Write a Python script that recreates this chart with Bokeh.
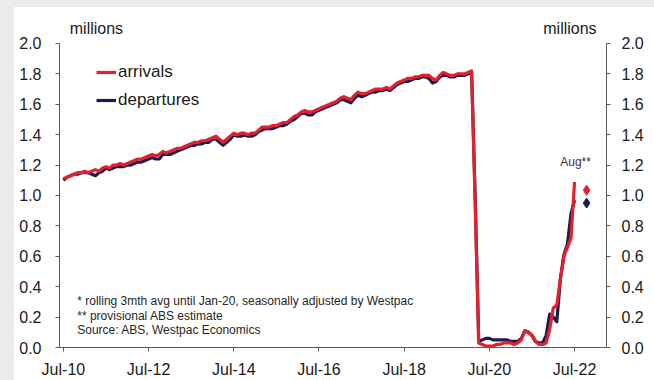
from bokeh.plotting import figure
from bokeh.models import (LinearAxis, FixedTicker, NumeralTickFormatter, Label,
                          Legend, LegendItem, ColumnDataSource, Range1d, Spacer)
from bokeh.layouts import column, row
from bokeh.embed import file_html
from bokeh.resources import INLINE

# ---------------- data (monthly, index 0 = Jul-10) ----------------
arrivals = [
    1.11, 1.12, 1.13, 1.14, 1.15, 1.15, 1.16, 1.15, 1.16, 1.17, 1.16, 1.18,
    1.19, 1.18, 1.20, 1.20, 1.21, 1.20, 1.21, 1.22, 1.23, 1.24, 1.24, 1.25,
    1.26, 1.27, 1.26, 1.27, 1.29, 1.28, 1.29, 1.30, 1.31, 1.31, 1.32, 1.33,
    1.34, 1.35, 1.35, 1.36, 1.36, 1.37, 1.38, 1.39, 1.37, 1.35, 1.37, 1.39,
    1.41, 1.40, 1.41, 1.41, 1.40, 1.41, 1.41, 1.43, 1.45, 1.45, 1.45, 1.46,
    1.46, 1.47, 1.48, 1.48, 1.50, 1.52, 1.53, 1.55, 1.56, 1.55, 1.55, 1.56,
    1.57, 1.58, 1.59, 1.60, 1.61, 1.62, 1.64, 1.65, 1.64, 1.63, 1.66, 1.68,
    1.67, 1.67, 1.68, 1.69, 1.70, 1.70, 1.70, 1.71, 1.70, 1.72, 1.74, 1.75,
    1.76, 1.77, 1.77, 1.78, 1.78, 1.79, 1.79, 1.79, 1.77, 1.76, 1.79, 1.81,
    1.80, 1.79, 1.79, 1.80, 1.80, 1.80, 1.81, 1.82, 0.95, 0.03, 0.02, 0.01,
    0.01, 0.01, 0.02, 0.02, 0.03, 0.03, 0.03, 0.02, 0.03, 0.05, 0.11, 0.10,
    0.08, 0.04, 0.02, 0.02, 0.03, 0.12, 0.26, 0.28, 0.45, 0.60, 0.66, 0.72,
    1.09,
]
departures = [
    1.10, 1.12, 1.13, 1.14, 1.14, 1.15, 1.15, 1.15, 1.14, 1.13, 1.15, 1.16,
    1.18, 1.17, 1.18, 1.19, 1.19, 1.19, 1.20, 1.20, 1.21, 1.22, 1.22, 1.23,
    1.24, 1.25, 1.24, 1.24, 1.27, 1.27, 1.27, 1.28, 1.29, 1.30, 1.31, 1.32,
    1.33, 1.33, 1.34, 1.34, 1.35, 1.35, 1.37, 1.37, 1.35, 1.33, 1.35, 1.37,
    1.40, 1.39, 1.39, 1.40, 1.39, 1.39, 1.40, 1.42, 1.43, 1.44, 1.44, 1.44,
    1.45, 1.46, 1.46, 1.47, 1.49, 1.50, 1.52, 1.54, 1.54, 1.53, 1.53, 1.55,
    1.56, 1.57, 1.58, 1.59, 1.60, 1.61, 1.63, 1.63, 1.62, 1.61, 1.64, 1.66,
    1.65, 1.66, 1.67, 1.68, 1.68, 1.69, 1.69, 1.70, 1.69, 1.71, 1.73, 1.74,
    1.75, 1.75, 1.76, 1.77, 1.77, 1.78, 1.78, 1.77, 1.74, 1.75, 1.78, 1.79,
    1.79, 1.78, 1.78, 1.79, 1.79, 1.79, 1.80, 1.81, 1.00, 0.04, 0.05, 0.06,
    0.06, 0.05, 0.05, 0.05, 0.05, 0.05, 0.04, 0.04, 0.04, 0.06, 0.11, 0.10,
    0.08, 0.04, 0.03, 0.03, 0.08, 0.22, 0.20, 0.17, 0.45, 0.61, 0.68, 0.88,
    0.97,
]
month_index = list(range(len(arrivals)))

tick_positions = [0, 24, 48, 72, 96, 120, 144]
tick_labels = ["Jul-10", "Jul-12", "Jul-14", "Jul-16", "Jul-18", "Jul-20", "Jul-22"]
y_ticks = [0.0, 0.2, 0.4, 0.6, 0.8, 1.0, 1.2, 1.4, 1.6, 1.8, 2.0]

aug_label = "Aug**"
aug_position = 147.4
aug_arrivals = 1.035
aug_departures = 0.95

unit_label = "millions"
footnotes = [
    "* rolling 3mth avg until Jan-20, seasonally adjusted by Westpac",
    "** provisional ABS estimate",
    "Source: ABS, Westpac Economics",
]

# ---------------- styling ----------------
RED = "#e3202c"
NAVY = "#1c1b4f"
FONT = "Liberation Sans"
TXT = "#1a1a1a"
AXC = "#595959"
BG = "#ebebeb"

# frame extends a little above 2.0 so the unit labels sit inside it;
# axis lines are bounded to 0..2
p = figure(width=640, height=373, x_range=Range1d(-1.1, 153), y_range=Range1d(0, 2.184),
           output_backend="svg", toolbar_location=None,
           min_border_left=45, min_border_right=48, min_border_top=8, min_border_bottom=33,
           background_fill_color="white", border_fill_color="white",
           outline_line_color=None)
p.grid.visible = False

src = ColumnDataSource(dict(x=month_index, arr=arrivals, dep=departures))
r_dep = p.line("x", "dep", source=src, line_color=NAVY, line_width=3.2, line_join="round")
r_arr = p.line("x", "arr", source=src, line_color=RED, line_width=3.2, line_join="round")

p.scatter([aug_position], [aug_arrivals], marker="diamond", size=10, color=RED)
p.scatter([aug_position], [aug_departures], marker="diamond", size=10, color=NAVY)

# axes
xa = p.xaxis[0]
xa.ticker = FixedTicker(ticks=tick_positions)
xa.major_label_overrides = {t: l for t, l in zip(tick_positions, tick_labels)}
ya = p.yaxis[0]
ya.ticker = FixedTicker(ticks=y_ticks)
ya.formatter = NumeralTickFormatter(format="0.0")
ya.bounds = (0, 2.0)
ry = LinearAxis(ticker=FixedTicker(ticks=y_ticks), formatter=NumeralTickFormatter(format="0.0"),
                bounds=(0, 2.0))
p.add_layout(ry, "right")

for ax in (xa, ya, ry):
    ax.axis_line_color = AXC
    ax.major_tick_line_color = AXC
    ax.major_tick_out = 4
    ax.major_tick_in = 0
    ax.minor_tick_line_color = None
    ax.major_label_text_font = FONT
    ax.major_label_text_font_size = "16px"
    ax.major_label_text_color = TXT
xa.major_label_standoff = 9
ya.major_label_standoff = 14
ry.major_label_standoff = 11

# unit labels
for xpos in (9.3, 142.7):
    p.add_layout(Label(x=xpos, y=2.099, text=unit_label, text_align="center",
                       text_baseline="middle", text_font=FONT, text_font_size="16px",
                       text_color=TXT))

# Aug label
p.add_layout(Label(x=144.3, y=1.217, text=aug_label, text_align="center",
                   text_baseline="middle", text_font=FONT, text_font_size="12px",
                   text_color="#333333"))

# footnotes
for t, yv in zip(footnotes, [0.309, 0.21, 0.112]):
    p.add_layout(Label(x=3.9, y=yv, text=t, text_align="left", text_baseline="middle",
                       text_font=FONT, text_font_size="12px", text_color="#262626"))

legend = Legend(items=[LegendItem(label="arrivals", renderers=[r_arr]),
                       LegendItem(label="departures", renderers=[r_dep])],
                location=(37, 237), background_fill_alpha=0, border_line_color=None,
                padding=0, margin=0, spacing=8, glyph_width=20, glyph_height=20,
                label_height=20, label_standoff=2,
                label_text_font=FONT, label_text_font_size="17px", label_text_color=TXT)
p.add_layout(legend)

top = Spacer(width=654, height=7, styles={"background-color": BG})
left = Spacer(width=14, height=373, styles={"background-color": BG})
layout = column(top, row(left, p, spacing=0), spacing=0)

open("out.html", "w").write(file_html(layout, INLINE))
